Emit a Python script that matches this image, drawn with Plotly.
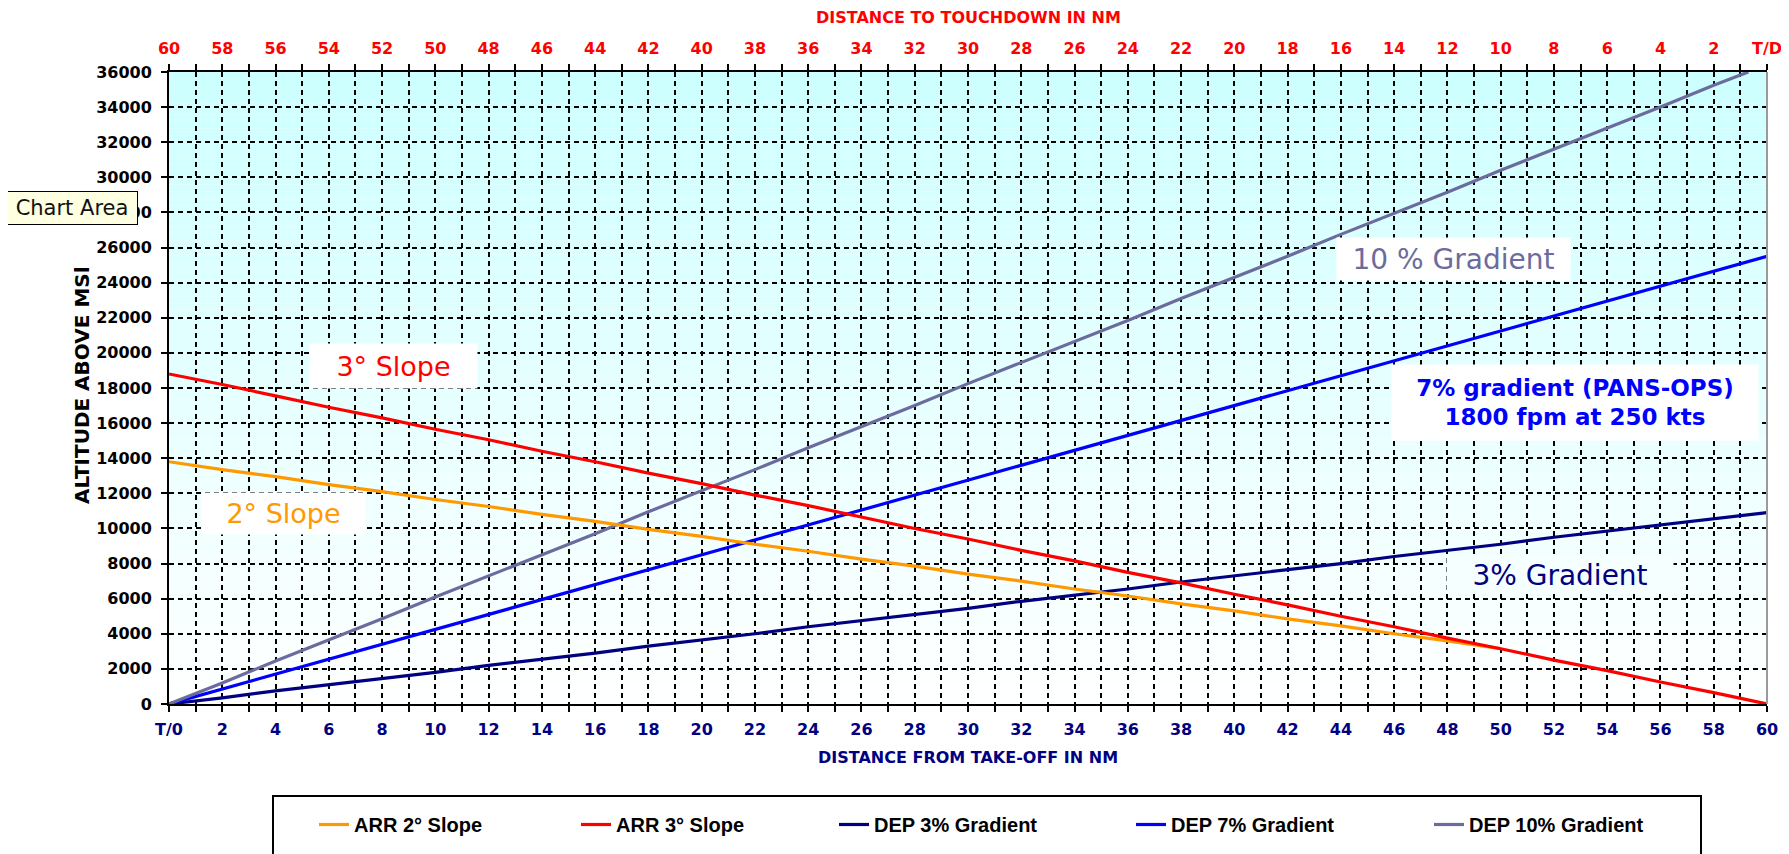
import plotly.graph_objects as go

# ---------------- data ----------------
# Departure series: distance from take-off (NM)
dep_x = [0, 2, 4, 6, 8, 10, 12, 14, 16, 18, 20, 22, 24, 26, 28, 30,
         32, 34, 36, 38, 40, 42, 44, 46, 48, 50, 52, 54, 56, 58, 60]
dep_3 = [0, 350, 750, 1100, 1450, 1800, 2200, 2550, 2900, 3300, 3650,
         4000, 4400, 4750, 5100, 5450, 5850, 6200, 6550, 6950, 7300,
         7650, 8000, 8400, 8750, 9100, 9500, 9850, 10200, 10550, 10900]
dep_7 = [0, 850, 1700, 2550, 3400, 4250, 5100, 5950, 6800, 7650, 8500,
         9350, 10200, 11050, 11900, 12750, 13600, 14450, 15300, 16150, 17000,
         17850, 18700, 19550, 20400, 21250, 22100, 22950, 23800, 24650, 25500]
dep_10_x = [0, 2, 4, 6, 8, 10, 12, 14, 16, 18, 20, 22, 24, 26, 28, 30,
            32, 34, 36, 38, 40, 42, 44, 46, 48, 50, 52, 54, 56, 58, 59.3]
dep_10 = [0, 1200, 2450, 3650, 4850, 6100, 7300, 8500, 9700, 10950, 12150,
          13350, 14600, 15800, 17000, 18250, 19450, 20650, 21850, 23100, 24300,
          25500, 26750, 27950, 29150, 30400, 31600, 32800, 34000, 35250, 36000]

# Arrival series: distance to touchdown (NM)
arr_3_d = [60, 58, 56, 54, 52, 50, 48, 46, 44, 42, 40, 38, 36, 34, 32, 30,
           28, 26, 24, 22, 20, 18, 16, 14, 12, 10, 8, 6, 4, 2, 0]
arr_3 = [18800, 18200, 17550, 16900, 16300, 15650, 15050, 14400, 13800, 13150,
         12550, 11900, 11300, 10650, 10000, 9400, 8750, 8150, 7500, 6900, 6250,
         5650, 5000, 4400, 3750, 3150, 2500, 1900, 1250, 650, 0]
arr_2_d = [60, 58, 56, 54, 52, 50, 48, 46, 44, 42, 40, 38, 36, 34, 32, 30,
           28, 26, 24, 22, 20, 18, 16, 14, 12, 10]
arr_2 = [13800, 13350, 12950, 12500, 12100, 11650, 11250, 10800, 10400, 9950,
         9550, 9100, 8700, 8250, 7850, 7400, 7000, 6550, 6150, 5700, 5300,
         4850, 4450, 4000, 3600, 3150]

series_names = ["ARR 2° Slope", "ARR 3° Slope", "DEP 3% Gradient",
                "DEP 7% Gradient", "DEP 10% Gradient"]

bottom_tick_vals = list(range(0, 61, 2))
bottom_tick_text = ["T/0"] + [str(v) for v in range(2, 61, 2)]
top_tick_vals = list(range(60, -1, -2))
top_tick_text = [str(v) for v in range(60, 0, -2)] + ["T/D"]
y_tick_vals = list(range(0, 36001, 2000))

# ---------------- layout geometry ----------------
# the page body has an 8px margin, so the figure is drawn 8px right/down
OFF = 8
W, H = 1789 - OFF, 854 - OFF
# plot area in page pixels: x 169..1767, y 72..704
L, T = 169 - OFF, 72 - OFF
R = W - (1767 - OFF)
B = H - (704 - OFF)
PW, PH = W - L - R, H - T - B


def px_x(p):  # page pixel -> paper x
    return (p - OFF - L) / PW


def px_y(p):  # page pixel -> paper y
    return (H - B - (p - OFF)) / PH


def dx(p):  # page pixel -> data x (NM from take-off)
    return px_x(p) * 60


def dy(p):  # page pixel -> data altitude
    return px_y(p) * 36000


BOLD = "DejaVu Sans"
fig = go.Figure()

colors = ["#FF9900", "#FF0000", "#000080", "#0000FF", "#6B6B9E"]
legend_w = [217, 213, 252, 253, 195]

fig.add_trace(go.Scatter(x=arr_2_d, y=arr_2, name=series_names[0], xaxis="x2",
                         mode="lines", line=dict(color=colors[0], width=3.2),
                         legendwidth=legend_w[0]))
fig.add_trace(go.Scatter(x=arr_3_d, y=arr_3, name=series_names[1], xaxis="x2",
                         mode="lines", line=dict(color=colors[1], width=3.2),
                         legendwidth=legend_w[1]))
fig.add_trace(go.Scatter(x=dep_x, y=dep_3, name=series_names[2],
                         mode="lines", line=dict(color=colors[2], width=3.2),
                         legendwidth=legend_w[2]))
fig.add_trace(go.Scatter(x=dep_x, y=dep_7, name=series_names[3],
                         mode="lines", line=dict(color=colors[3], width=3.2),
                         legendwidth=legend_w[3]))
fig.add_trace(go.Scatter(x=dep_10_x, y=dep_10, name=series_names[4],
                         mode="lines", line=dict(color=colors[4], width=3.2),
                         legendwidth=legend_w[4]))

# background gradient (cyan top -> white bottom)
shapes = []
N = 90
for i in range(N):
    f = (i + 0.5) / N
    r = int(round(255 - (255 - 204) * f))
    shapes.append(dict(type="rect", xref="paper", yref="paper",
                       x0=0, x1=1, y0=i / N, y1=(i + 1) / N,
                       fillcolor=f"rgb({r},255,255)", line=dict(width=0),
                       layer="below"))
# right border of plot area
shapes.append(dict(type="line", xref="paper", yref="paper", x0=1, x1=1, y0=0, y1=1,
                   line=dict(color="#9A9A9A", width=2), layer="above"))
# legend box
shapes.append(dict(type="rect", xref="paper", yref="paper",
                   x0=px_x(273), x1=px_x(1701), y0=px_y(796), y1=px_y(880),
                   line=dict(color="black", width=2), fillcolor="white", layer="below"))

grid_style = dict(gridcolor="black", griddash="5px,4px", gridwidth=1.5)

fig.update_layout(
    width=W, height=H,
    margin=dict(l=L, r=R, t=T, b=B, pad=0, autoexpand=False),
    paper_bgcolor="white", plot_bgcolor="white",
    shapes=shapes,
    showlegend=True,
    legend=dict(orientation="h", x=px_x(314), xanchor="left",
                y=px_y(805), yanchor="top",
                font=dict(family="Liberation Sans", size=20, color="black", weight="bold"),
                bgcolor="rgba(0,0,0,0)", borderwidth=0, itemwidth=30,
                tracegroupgap=0),
    xaxis=dict(range=[0, 60], tickmode="array", tickvals=bottom_tick_vals,
               ticktext=bottom_tick_text, showgrid=True, **grid_style,
               zeroline=False, showline=True, linecolor="black", linewidth=2,
               ticks="outside", ticklen=6, tickwidth=2, tickcolor="black",
               ticklabelstandoff=4,
               tickfont=dict(family=BOLD, size=16, color="#000080", weight="bold"),
               minor=dict(tickmode="linear", tick0=0, dtick=1, showgrid=True,
                          ticks="outside", ticklen=6, tickwidth=2, tickcolor="black",
                          **grid_style)),
    xaxis2=dict(range=[60, 0], overlaying="x", side="top", anchor="y",
                tickmode="array", tickvals=top_tick_vals, ticktext=top_tick_text,
                showgrid=False, zeroline=False, showline=True, linecolor="black",
                linewidth=2, ticks="outside", ticklen=6, tickwidth=2, tickcolor="black",
                ticklabelstandoff=4,
                tickfont=dict(family=BOLD, size=16, color="#FF0000", weight="bold"),
                minor=dict(tickmode="linear", tick0=0, dtick=1, ticks="outside",
                           ticklen=6, tickwidth=2, tickcolor="black", showgrid=False)),
    yaxis=dict(range=[0, 36000], tickmode="array", tickvals=y_tick_vals,
               tickformat="d", showgrid=True, **grid_style, zeroline=False,
               showline=True, linecolor="black", linewidth=2,
               ticks="outside", ticklen=6, tickwidth=2, tickcolor="black",
               ticklabelstandoff=6,
               tickfont=dict(family=BOLD, size=16, color="black", weight="bold")),
)

ann = []
# axis titles
ann.append(dict(text="DISTANCE TO TOUCHDOWN IN NM", xref="paper", yref="paper",
                x=0.5, y=px_y(18), showarrow=False, xanchor="center", yanchor="middle",
                font=dict(family=BOLD, size=16, color="#FF0000", weight="bold")))
ann.append(dict(text="DISTANCE FROM TAKE-OFF IN NM", xref="paper", yref="paper",
                x=0.5, y=px_y(757), showarrow=False, xanchor="center", yanchor="middle",
                font=dict(family=BOLD, size=16, color="#000080", weight="bold")))
ann.append(dict(text="ALTITUDE ABOVE MSl", xref="paper", yref="paper",
                x=px_x(82), y=px_y(385), showarrow=False, textangle=-90,
                xanchor="center", yanchor="middle",
                font=dict(family=BOLD, size=20, color="black", weight="bold")))


def box(text, cx, cy, w, h, color, size, bg="white", weight="normal"):
    return dict(text=text, x=dx(cx), y=dy(cy), xref="x", yref="y", showarrow=False,
                xanchor="center", yanchor="middle", width=w, height=h, align="center",
                valign="middle", bgcolor=bg, borderpad=0,
                font=dict(family="DejaVu Sans", size=size, color=color, weight=weight))


ann.append(box("3° Slope", 393.5, 366, 167, 44, "#FF0000", 27))
ann.append(box("2° Slope", 283.5, 513.5, 163, 41, "#FF9900", 27))
ann.append(box("10 % Gradient", 1453.5, 259, 233, 42, "#6B6B9E", 28))
ann.append(box("7% gradient (PANS-OPS)<br>1800 fpm at 250 kts", 1575, 402.5, 366, 75,
               "#0000FF", 23, weight="bold"))
ann.append(box("3% Gradient", 1560, 575, 226, 36, "#000080", 28, bg="#F6FFFF"))

# "Chart Area" tooltip
ann.append(dict(text="Chart Area", xref="paper", yref="paper", x=px_x(72), y=px_y(208),
                showarrow=False, xanchor="center", yanchor="middle", width=130, height=32,
                bgcolor="#FFFFE1", bordercolor="black", borderwidth=1, borderpad=0,
                font=dict(family="DejaVu Sans", size=21, color="#111111")))

fig.update_layout(annotations=ann)

fig.write_html("out.html")
